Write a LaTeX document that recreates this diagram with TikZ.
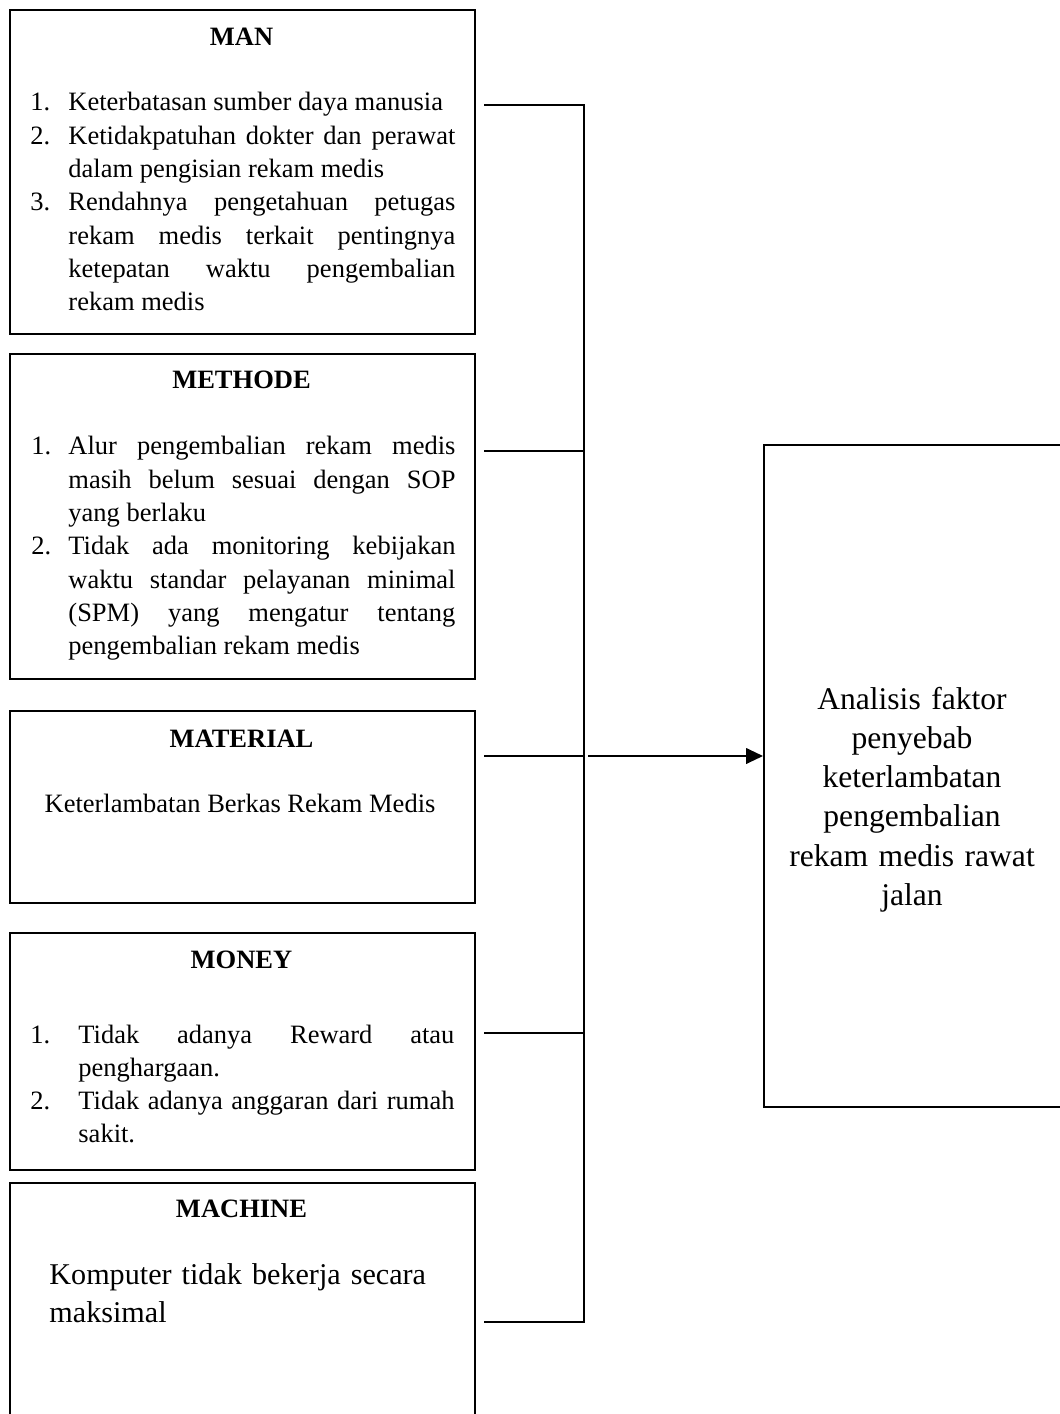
\documentclass[tikz,border=0pt]{standalone}
\usepackage{fontspec}
\setmainfont{Liberation Serif}
\usetikzlibrary{arrows.meta}
\tolerance=10000 \hbadness=10000 \hfuzz=4pt
\newcommand{\numitem}[3]{\noindent\hangindent=#1\relax\hangafter=1\relax\hbox to #1{#2\hfil}#3\par}
\tikzset{
  box/.style={draw, line width=0.9pt, inner sep=0pt, anchor=north west, minimum width=210.55pt},
  head/.style={font=\fontsize{12}{15}\selectfont\bfseries, inner sep=0pt, anchor=base},
  listtxt/.style={inner sep=0pt, anchor=base west, align=justify, font=\fontsize{12}{15.08}\selectfont},
  conn/.style={line width=0.9pt},
}
\begin{document}
\begin{tikzpicture}[x=0.4528pt, y=-0.4528pt]
\useasboundingbox (0,0) rectangle (1059,1414);

% boxes
\node[box, minimum height=146.7pt] (man) at (9,9) {};
\node[box, minimum height=147.16pt] (met) at (9,353) {};
\node[box, minimum height=86.94pt] (mat) at (9,710) {};
\node[box, minimum height=107.3pt] (mon) at (9,932) {};
\node[box, minimum height=112.3pt] (mac) at (9,1182) {};
\node[box, minimum width=135.4pt, minimum height=299.8pt] (ana) at (763,444) {};

% headings
\node[head] (manh) at (241.5,46) {MAN};
\node[head] (meth) at (241.5,389) {METHODE};
\node[head] (math) at (241.5,747) {MATERIAL};
\node[head] (monh) at (241.5,968) {MONEY};
\node[head] (mach) at (241.5,1217) {MACHINE};

% MAN list
\node[listtxt, text width=192.4pt] (manl) at (30,111) {%
\numitem{17.2pt}{1.}{Keterbatasan sumber daya manusia}%
\numitem{17.2pt}{2.}{Ketidakpatuhan dokter dan perawat\linebreak dalam pengisian rekam medis}%
\numitem{17.2pt}{3.}{Rendahnya pengetahuan petugas\linebreak rekam medis terkait pentingnya\linebreak ketepatan waktu pengembalian\linebreak rekam medis}};

% METHODE list
\node[listtxt, text width=192.0pt] (metl) at (31,455) {%
\numitem{16.75pt}{1.}{Alur pengembalian rekam medis\linebreak masih belum sesuai dengan SOP\linebreak yang berlaku}%
\numitem{16.75pt}{2.}{Tidak ada monitoring kebijakan\linebreak waktu standar pelayanan minimal\linebreak (SPM) yang mengatur tentang\linebreak pengembalian rekam medis}};

% MATERIAL text
\node[inner sep=0pt, anchor=base, font=\fontsize{12}{15}\selectfont] (matl) at (240,812) {Keterlambatan Berkas Rekam Medis};

% MONEY list
\node[listtxt, text width=192.0pt] (monl) at (30,1043) {%
\numitem{21.73pt}{1.}{Tidak adanya Reward atau\linebreak penghargaan.}%
\numitem{21.73pt}{2.}{Tidak adanya anggaran dari rumah\linebreak sakit.}};

% MACHINE text
\node[inner sep=0pt, anchor=base west, text width=200pt, align=left, font=\fontsize{13.65}{17.2}\selectfont] (macl) at (49,1284) {Komputer tidak bekerja secara\\maksimal};

% right box text
\node[inner sep=0pt, anchor=base, text width=130pt, align=center, font=\fontsize{14.3}{17.8}\selectfont] (anal) at (912,709) {Analisis faktor\\penyebab\\keterlambatan\\pengembalian\\rekam medis rawat\\jalan};

% connectors
\coordinate (s1) at (484,105);
\coordinate (c1) at (584,105);
\coordinate (s2) at (484,451);
\coordinate (s3) at (484,756);
\coordinate (s4) at (484,1033);
\coordinate (s5) at (484,1322);
\coordinate (c5) at (584,1322);
\coordinate (a0) at (588,756);

\draw[conn] (s1) -- (c1) -- (c5) -- (s5);
\draw[conn] (s2) -- (s2 -| c1);
\draw[conn] (s3) -- (s3 -| c1);
\draw[conn] (s4) -- (s4 -| c1);
\draw[conn, -{Triangle[length=7.6pt, width=7pt]}] (a0) -- (a0 -| ana.west);
\end{tikzpicture}
\end{document}
